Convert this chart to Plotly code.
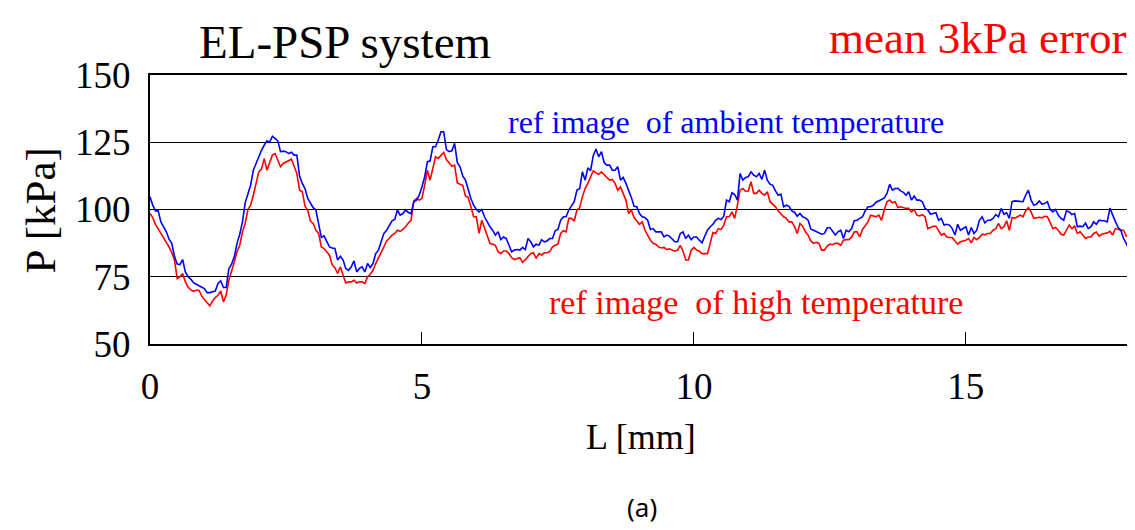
import plotly.graph_objects as go

# Sample positions along the model [mm], 0.1 mm grid and the in-between points
L_MAIN = [round(i * 0.1, 2) for i in range(181)]
L_MID = [round(i * 0.1 + 0.05, 2) for i in range(180)]

# Pressure with reference image at ambient temperature [kPa] (on L_MAIN)
P_AMBIENT = [
    104.7, 99.5, 95.4, 91.7, 87.4, 79.7, 81.4, 75.0, 72.8, 71.6, 70.6, 69.1, 69.7, 73.5, 71.0, 79.7, 87.4, 95.4, 106.0, 114.6, 120.2, 123.9, 125.0, 126.4, 121.5, 121.5,
    121.3, 120.2, 109.7, 104.1, 100.7, 94.8, 90.2, 86.1, 85.5, 82.6, 78.1, 78.7, 76.8, 78.7, 79.9, 79.9, 84.9, 91.1, 94.2, 96.3, 97.9, 99.8, 98.5, 103.5, 108.4, 117.7,
    123.3, 125.8, 128.9, 121.5, 124.6, 115.9, 110.9, 104.1, 100.0, 100.0, 95.4, 92.3, 91.7, 89.8, 86.7, 84.9, 84.9, 85.1, 88.0, 87.1, 88.8, 88.3, 89.2, 92.6, 97.3, 99.8,
    102.9, 107.7, 110.9, 114.4, 122.5, 121.5, 116.5, 114.6, 115.9, 111.9, 107.2, 101.2, 98.5, 97.0, 92.6, 91.7, 91.7, 90.5, 89.2, 88.0, 91.7, 90.5, 89.8, 88.6, 90.1,
    93.6, 96.0, 96.3, 103.5, 106.2, 103.5, 110.9, 112.2, 112.8, 113.4, 114.6, 109.4, 106.9, 105.7, 101.6, 99.5, 97.5, 97.3, 96.0, 92.3, 91.3, 91.1, 93.3, 90.5, 92.3, 92.3,
    92.9, 96.0, 97.3, 101.0, 101.6, 103.1, 104.3, 109.4, 107.8, 106.9, 105.3, 103.5, 103.5, 102.9, 99.8, 98.5, 96.0, 94.2, 94.2, 90.5, 92.3, 93.6, 93.3, 92.3, 97.3, 96.0,
    96.7, 97.3, 98.3, 96.7, 103.2, 102.9, 105.3, 103.5, 102.0, 102.0, 102.9, 99.1, 97.9, 96.0, 99.1, 98.5, 93.8, 95.0, 93.6, 94.5, 95.8, 95.4, 97.9, 93.3, 89.2, 85.1,
]
# (on L_MID)
P_AMBIENT_MID = [
    101.6, 99.5, 93.7, 89.0, 82.6, 79.5, 76.8, 74.1, 72.2, 71.2, 69.1, 69.4, 72.5, 71.0, 78.0, 82.4, 90.8, 102.5, 109.0, 117.1, 122.0, 125.5, 127.2, 125.5, 121.7,
    120.8, 120.2, 112.4, 107.8, 102.2, 99.8, 89.6, 88.0, 85.7, 81.2, 81.2, 77.4, 80.9, 78.1, 76.8, 78.4, 83.6, 88.0, 92.3, 95.8, 99.8, 98.5, 98.9, 102.9, 105.3, 112.2,
    118.1, 123.3, 128.9, 122.3, 121.8, 117.5, 112.5, 107.2, 101.6, 99.1, 97.3, 93.6, 90.5, 88.8, 89.2, 84.3, 85.1, 85.9, 89.2, 86.1, 86.7, 88.0, 89.2, 92.1, 96.0, 97.3,
    101.2, 107.2, 114.0, 115.5, 120.0, 119.6, 117.4, 116.5, 114.6, 110.9, 109.7, 104.5, 101.0, 97.3, 96.0, 92.9, 91.7, 89.8, 90.1, 88.0, 91.1, 89.2, 88.8, 89.8, 87.6,
    92.3, 94.5, 96.7, 97.5, 102.9, 105.6, 113.4, 111.9, 114.0, 112.2, 111.2, 110.9, 109.0, 105.3, 101.0, 101.2, 99.0, 98.5, 96.9, 92.7, 91.8, 90.8, 93.1, 92.1, 91.7, 89.2,
    91.7, 95.8, 96.7, 99.5, 101.0, 102.7, 103.7, 106.0, 107.2, 107.9, 106.4, 106.6, 105.0, 103.5, 100.4, 98.3, 98.8, 96.7, 94.5, 92.9, 94.5, 92.9, 90.5, 91.1, 96.0, 95.0,
    96.0, 98.1, 100.4, 98.8, 102.9, 103.1, 102.9, 107.2, 101.6, 103.2, 102.2, 100.0, 100.0, 96.7, 99.5, 98.1, 93.6, 93.6, 92.9, 95.4, 96.0, 95.8, 100.5, 95.4, 92.3, 87.4,
]

# Pressure with reference image at high temperature [kPa] (on L_MAIN)
P_HIGH = [
    98.5, 94.5, 91.0, 87.6, 84.0, 74.3, 76.2, 71.2, 69.6, 70.0, 66.5, 64.2, 67.3, 69.7, 68.1, 76.8, 84.3, 91.7, 100.0, 105.3, 114.0, 119.0, 117.7, 120.8, 115.9, 117.7,
    118.7, 113.4, 106.6, 99.8, 94.8, 91.1, 85.5, 83.0, 78.4, 78.7, 72.7, 73.1, 72.7, 73.1, 75.0, 77.4, 81.8, 86.1, 89.2, 91.1, 91.9, 93.6, 96.0, 104.1, 104.1, 114.6,
    115.9, 119.0, 121.2, 117.1, 116.5, 109.4, 105.0, 101.0, 97.3, 96.0, 90.5, 87.1, 84.3, 84.6, 83.6, 81.4, 82.1, 81.4, 83.6, 81.8, 83.1, 83.9, 86.1, 87.1, 92.1, 96.7,
    95.7, 100.7, 107.8, 112.2, 113.6, 114.0, 111.9, 111.2, 107.2, 106.0, 98.5, 97.0, 94.5, 92.3, 88.6, 87.1, 85.7, 85.1, 84.9, 84.9, 84.6, 81.2, 85.9, 84.5, 83.6,
    87.4, 91.1, 92.6, 97.3, 99.1, 101.6, 107.8, 106.9, 106.0, 107.2, 105.3, 102.9, 101.0, 98.3, 96.7, 95.4, 91.1, 93.8, 90.5, 87.4, 87.4, 84.9, 87.1, 87.4, 86.7, 88.8,
    89.8, 91.7, 92.6, 95.4, 97.5, 97.9, 99.8, 103.5, 102.9, 101.0, 100.4, 99.1, 97.9, 98.1, 92.9, 93.8, 92.3, 91.1, 89.6, 88.3, 88.0, 88.6, 87.6, 88.8, 90.8, 91.1,
    92.3, 94.8, 93.6, 92.3, 96.8, 97.9, 99.5, 99.1, 96.9, 96.9, 97.3, 92.9, 92.3, 90.5, 94.2, 93.8, 91.7, 89.2, 89.8, 91.6, 90.8, 91.3, 90.5, 92.6, 92.3, 90.8,
]
# (on L_MID)
P_HIGH_MID = [
    97.0, 92.9, 89.2, 86.1, 81.2, 75.0, 73.1, 70.1, 70.0, 67.9, 65.3, 66.0, 68.1, 65.6, 73.7, 80.5, 86.7, 94.8, 101.6, 109.7, 115.0, 114.6, 120.2, 118.4, 117.1,
    118.4, 116.1, 107.2, 101.2, 95.7, 92.3, 86.1, 84.3, 79.4, 76.2, 75.6, 73.1, 73.7, 73.1, 72.5, 75.9, 79.9, 83.9, 88.3, 90.5, 92.3, 92.6, 95.0, 103.2, 103.5, 109.0,
    110.9, 119.6, 120.0, 118.6, 116.1, 109.9, 109.0, 104.5, 97.3, 91.1, 92.9, 87.4, 86.7, 83.6, 84.6, 82.1, 81.8, 80.3, 82.6, 83.9, 83.6, 83.9, 84.3, 86.7, 91.1, 91.7,
    96.7, 99.8, 104.7, 109.7, 114.4, 113.1, 112.8, 110.9, 109.7, 108.4, 103.5, 99.8, 95.7, 95.4, 90.5, 87.4, 86.1, 85.9, 85.4, 84.5, 86.7, 81.2, 84.9, 84.9, 83.6,
    83.6, 91.4, 92.9, 94.2, 97.3, 96.7, 107.2, 106.8, 110.3, 106.0, 106.0, 106.6, 101.9, 99.5, 97.3, 95.4, 93.6, 94.8, 91.7, 88.3, 87.8, 84.9, 86.4, 86.9, 87.4, 88.6,
    88.8, 91.7, 89.8, 93.8, 97.9, 97.3, 96.0, 102.9, 102.5, 100.7, 100.7, 100.4, 100.0, 97.6, 97.3, 93.3, 93.8, 90.5, 89.8, 89.6, 87.1, 88.3, 89.2, 89.6, 89.6, 90.6,
    91.1, 92.8, 92.9, 95.8, 97.0, 97.3, 97.3, 100.7, 96.7, 97.1, 97.5, 94.8, 93.3, 90.8, 92.3, 92.9, 91.1, 90.5, 89.8, 91.1, 90.1, 91.1, 91.9, 92.9, 92.3, 90.1,
]

X_TICKS = [0, 5, 10, 15]
Y_TICKS = [50, 75, 100, 125, 150]


def merge(xa, ya, xb, yb):
    pts = sorted(zip(xa + xb, ya + yb))
    return [p[0] for p in pts], [p[1] for p in pts]


xa, ya = merge(L_MAIN, P_AMBIENT, L_MID, P_AMBIENT_MID)
xh, yh = merge(L_MAIN, P_HIGH, L_MID, P_HIGH_MID)

SERIF = "Liberation Serif, Times New Roman, serif"

fig = go.Figure()
fig.add_trace(go.Scatter(x=xh, y=yh, mode="lines",
                         line=dict(color="#ff0000", width=1.6), showlegend=False))
fig.add_trace(go.Scatter(x=xa, y=ya, mode="lines",
                         line=dict(color="#0000ff", width=1.6), showlegend=False))

# page body adds an 8px offset, so the figure is 8px smaller than the window
fig.update_layout(
    width=1127, height=522,
    margin=dict(l=142, r=4, t=67, b=186),
    paper_bgcolor="white", plot_bgcolor="white",
    font=dict(family=SERIF, color="black"),
    showlegend=False,
)
fig.update_xaxes(
    range=[0, 18], tickvals=X_TICKS, ticks="inside", ticklen=12, tickcolor="black",
    tickfont=dict(size=37, family=SERIF), showgrid=False, zeroline=False,
    showline=True, linecolor="black", linewidth=2, mirror=True,
    ticklabelstandoff=9,
)
fig.update_yaxes(
    range=[50, 150], tickvals=Y_TICKS, ticks="inside", ticklen=12, tickcolor="black",
    tickfont=dict(size=37, family=SERIF), showgrid=True, gridcolor="black", gridwidth=1.2,
    zeroline=False, showline=True, linecolor="black", linewidth=2, mirror=True,
    ticklabelstandoff=10,
)

annos = [
    dict(text="EL-PSP system", x=0.199, y=1.0, xref="paper", yref="paper", yanchor="bottom",
         yshift=6, borderpad=0, font=dict(size=47, color="black", family=SERIF)),
    dict(text="mean 3kPa error", x=0.845, y=1.0, xref="paper", yref="paper", yanchor="bottom",
         yshift=11, borderpad=0, font=dict(size=45, color="#ff0000", family=SERIF)),
    dict(text="ref image\u00a0 of ambient temperature", x=10.59, y=132.4, xref="x", yref="y",
         font=dict(size=32, color="#0000ff", family=SERIF)),
    dict(text="ref image\u00a0 of high temperature", x=11.14, y=65.6, xref="x", yref="y",
         font=dict(size=34, color="#ff0000", family=SERIF)),
    dict(text="L [mm]", x=0.502, y=-0.346, xref="paper", yref="paper",
         font=dict(size=36, color="black", family=SERIF)),
    dict(text="P [kPa]", x=-0.112, y=0.498, xref="paper", yref="paper", textangle=-90,
         font=dict(size=43, color="black", family=SERIF)),
    dict(text="(a)", x=0.503, y=-0.606, xref="paper", yref="paper",
         font=dict(size=26, color="black", family="Noto Sans, sans-serif")),
]
for a in annos:
    a.setdefault("yanchor", "middle")
    fig.add_annotation(showarrow=False, xanchor="center", **a)

fig.write_html("out.html")
